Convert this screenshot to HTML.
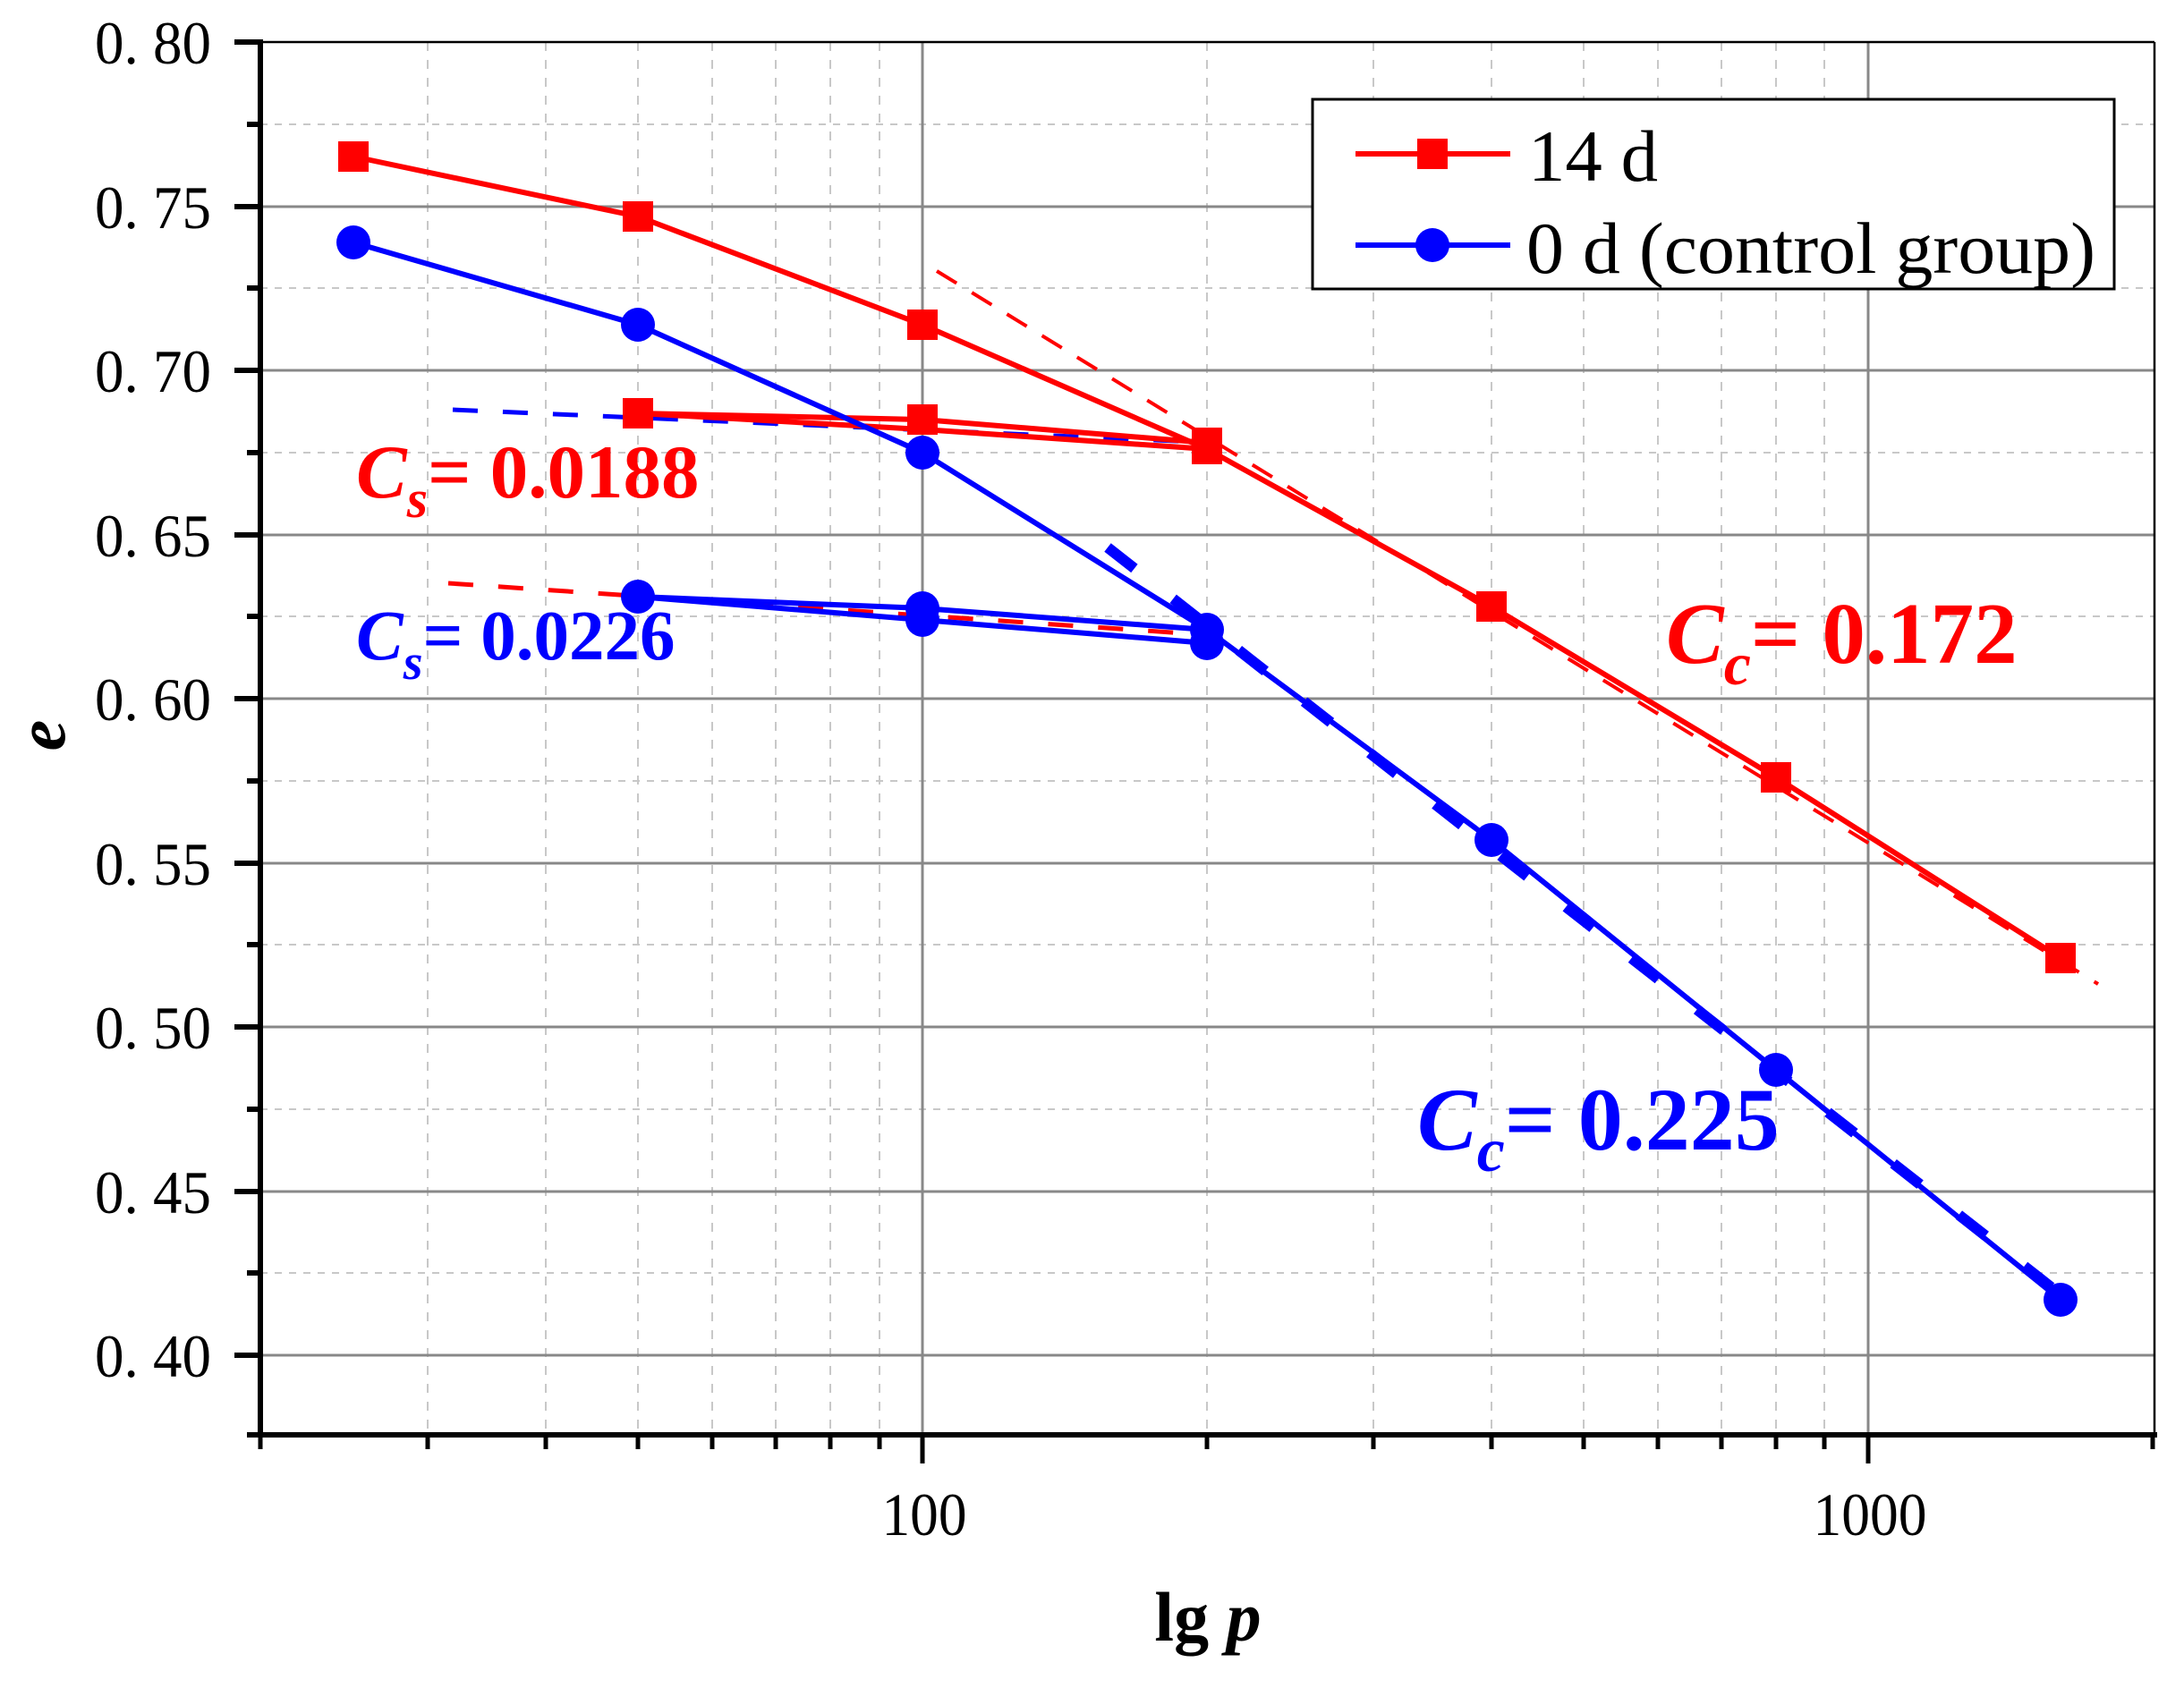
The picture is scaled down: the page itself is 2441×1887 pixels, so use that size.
<!DOCTYPE html>
<html><head><meta charset="utf-8"><style>html,body{margin:0;padding:0;background:#fff}svg{display:block}</style></head>
<body>
<svg width="2441" height="1887" viewBox="0 0 2441 1887" xmlns="http://www.w3.org/2000/svg" font-family="'Liberation Serif', serif">
<rect width="2441" height="1887" fill="#fff"/>
<g stroke="#c8c8c8" stroke-width="2" stroke-dasharray="8,8">
<line x1="291" y1="139" x2="2408" y2="139"/><line x1="291" y1="322" x2="2408" y2="322"/>
<line x1="291" y1="506" x2="2408" y2="506"/><line x1="291" y1="689" x2="2408" y2="689"/>
<line x1="291" y1="873" x2="2408" y2="873"/><line x1="291" y1="1056" x2="2408" y2="1056"/>
<line x1="291" y1="1240" x2="2408" y2="1240"/><line x1="291" y1="1423" x2="2408" y2="1423"/>
</g>
<g stroke="#c8c8c8" stroke-width="2" stroke-dasharray="10,10">
<line x1="478" y1="47" x2="478" y2="1604"/><line x1="610" y1="47" x2="610" y2="1604"/>
<line x1="713" y1="47" x2="713" y2="1604"/><line x1="796" y1="47" x2="796" y2="1604"/>
<line x1="867" y1="47" x2="867" y2="1604"/><line x1="928" y1="47" x2="928" y2="1604"/>
<line x1="983" y1="47" x2="983" y2="1604"/>
<line x1="1349" y1="47" x2="1349" y2="1604"/><line x1="1535" y1="47" x2="1535" y2="1604"/>
<line x1="1667" y1="47" x2="1667" y2="1604"/><line x1="1770" y1="47" x2="1770" y2="1604"/>
<line x1="1853" y1="47" x2="1853" y2="1604"/><line x1="1924" y1="47" x2="1924" y2="1604"/>
<line x1="1985" y1="47" x2="1985" y2="1604"/><line x1="2039" y1="47" x2="2039" y2="1604"/>
</g>
<g stroke="#888" stroke-width="3">
<line x1="291" y1="231" x2="2408" y2="231"/><line x1="291" y1="414" x2="2408" y2="414"/>
<line x1="291" y1="598" x2="2408" y2="598"/><line x1="291" y1="781" x2="2408" y2="781"/>
<line x1="291" y1="965" x2="2408" y2="965"/><line x1="291" y1="1148" x2="2408" y2="1148"/>
<line x1="291" y1="1332" x2="2408" y2="1332"/><line x1="291" y1="1515" x2="2408" y2="1515"/>
<line x1="1031" y1="47" x2="1031" y2="1604"/><line x1="2088" y1="47" x2="2088" y2="1604"/>
</g>
<line x1="291" y1="47" x2="2408" y2="47" stroke="#000" stroke-width="2.5"/>
<line x1="2408" y1="47" x2="2408" y2="1604" stroke="#000" stroke-width="2.5"/>
<line x1="291" y1="44" x2="291" y2="1607" stroke="#000" stroke-width="6"/>
<line x1="288" y1="1604" x2="2411" y2="1604" stroke="#000" stroke-width="6"/>
<g stroke="#000" stroke-width="6">
<line x1="262" y1="47" x2="291" y2="47"/><line x1="262" y1="231" x2="291" y2="231"/>
<line x1="262" y1="414" x2="291" y2="414"/><line x1="262" y1="598" x2="291" y2="598"/>
<line x1="262" y1="781" x2="291" y2="781"/><line x1="262" y1="965" x2="291" y2="965"/>
<line x1="262" y1="1148" x2="291" y2="1148"/><line x1="262" y1="1332" x2="291" y2="1332"/>
<line x1="262" y1="1515" x2="291" y2="1515"/>
<line x1="276" y1="139" x2="291" y2="139"/><line x1="276" y1="322" x2="291" y2="322"/>
<line x1="276" y1="506" x2="291" y2="506"/><line x1="276" y1="689" x2="291" y2="689"/>
<line x1="276" y1="873" x2="291" y2="873"/><line x1="276" y1="1056" x2="291" y2="1056"/>
<line x1="276" y1="1240" x2="291" y2="1240"/><line x1="276" y1="1423" x2="291" y2="1423"/>
<line x1="276" y1="1604" x2="291" y2="1604"/>
</g>
<g stroke="#000" stroke-width="5">
<line x1="291" y1="1604" x2="291" y2="1620"/>
<line x1="478" y1="1604" x2="478" y2="1620"/><line x1="610" y1="1604" x2="610" y2="1620"/>
<line x1="713" y1="1604" x2="713" y2="1620"/><line x1="796" y1="1604" x2="796" y2="1620"/>
<line x1="867" y1="1604" x2="867" y2="1620"/><line x1="928" y1="1604" x2="928" y2="1620"/>
<line x1="983" y1="1604" x2="983" y2="1620"/>
<line x1="1349" y1="1604" x2="1349" y2="1620"/><line x1="1535" y1="1604" x2="1535" y2="1620"/>
<line x1="1667" y1="1604" x2="1667" y2="1620"/><line x1="1770" y1="1604" x2="1770" y2="1620"/>
<line x1="1853" y1="1604" x2="1853" y2="1620"/><line x1="1924" y1="1604" x2="1924" y2="1620"/>
<line x1="1985" y1="1604" x2="1985" y2="1620"/><line x1="2039" y1="1604" x2="2039" y2="1620"/>
<line x1="2406" y1="1604" x2="2406" y2="1620"/>
<line x1="1031" y1="1604" x2="1031" y2="1636"/><line x1="2088" y1="1604" x2="2088" y2="1636"/>
</g>
<g font-size="68" fill="#000" text-anchor="end">
<text x="236" y="71" textLength="130" lengthAdjust="spacingAndGlyphs">0. 80</text>
<text x="236" y="255" textLength="130" lengthAdjust="spacingAndGlyphs">0. 75</text>
<text x="236" y="438" textLength="130" lengthAdjust="spacingAndGlyphs">0. 70</text>
<text x="236" y="622" textLength="130" lengthAdjust="spacingAndGlyphs">0. 65</text>
<text x="236" y="805" textLength="130" lengthAdjust="spacingAndGlyphs">0. 60</text>
<text x="236" y="989" textLength="130" lengthAdjust="spacingAndGlyphs">0. 55</text>
<text x="236" y="1172" textLength="130" lengthAdjust="spacingAndGlyphs">0. 50</text>
<text x="236" y="1356" textLength="130" lengthAdjust="spacingAndGlyphs">0. 45</text>
<text x="236" y="1539" textLength="130" lengthAdjust="spacingAndGlyphs">0. 40</text>
</g>
<g font-size="68" fill="#000" text-anchor="middle">
<text x="1033" y="1716" textLength="95" lengthAdjust="spacingAndGlyphs">100</text>
<text x="2090" y="1716" textLength="127" lengthAdjust="spacingAndGlyphs">1000</text>
</g>
<text x="1350" y="1834" font-size="78" font-weight="bold" text-anchor="middle" fill="#000">lg <tspan font-style="italic">p</tspan></text>
<text transform="translate(72,822) rotate(-90)" font-size="78" font-weight="bold" font-style="italic" text-anchor="middle" fill="#000">e</text>

<line x1="1047" y1="303" x2="2345" y2="1100" stroke="#f00" stroke-width="4" stroke-dasharray="26,20"/>
<line x1="1238" y1="612" x2="2304" y2="1448" stroke="#00f" stroke-width="12" stroke-dasharray="38,55"/>
<line x1="506" y1="458" x2="1362" y2="495" stroke="#00f" stroke-width="5" stroke-dasharray="28,28"/>
<line x1="501" y1="652" x2="1354" y2="710" stroke="#f00" stroke-width="5" stroke-dasharray="28,28"/>

<g stroke="#f00" stroke-width="6" fill="none">
<polyline points="395,175 713,242 1031,363 1349,502 1667,678 1985,869 2303,1071"/>
<polyline points="1349,495 1031,469 713,462"/>
<polyline points="713,462 1031,480 1349,502"/>
</g>
<g fill="#f00">
<rect x="378" y="158" width="34" height="34"/><rect x="696" y="225" width="34" height="34"/>
<rect x="1014" y="346" width="34" height="34"/><rect x="1332" y="485" width="34" height="34"/>
<rect x="1650" y="661" width="34" height="34"/><rect x="1968" y="852" width="34" height="34"/>
<rect x="2286" y="1054" width="34" height="34"/>
<rect x="696" y="445" width="34" height="34"/><rect x="1014" y="452" width="34" height="34"/>
<rect x="1332" y="478" width="34" height="34"/>
</g>
<g stroke="#00f" stroke-width="6" fill="none">
<polyline points="395,271 713,363 1031,506 1349,704 1667,939 1985,1196 2303,1453"/>
<polyline points="1349,704 1031,680 713,667"/>
<polyline points="713,667 1031,693 1349,719"/>
</g>
<g fill="#00f">
<circle cx="395" cy="271" r="19"/><circle cx="713" cy="363" r="19"/>
<circle cx="1031" cy="506" r="19"/><circle cx="1349" cy="704" r="19"/>
<circle cx="1667" cy="939" r="19"/><circle cx="1985" cy="1196" r="19"/>
<circle cx="2303" cy="1453" r="19"/>
<circle cx="713" cy="667" r="19"/><circle cx="1031" cy="680" r="19"/>
<circle cx="1031" cy="693" r="19"/><circle cx="1349" cy="719" r="19"/>
</g>

<g font-weight="bold">
<text x="398" y="556" font-size="85" fill="#f00"><tspan font-style="italic">C</tspan><tspan font-style="italic" font-size="60" dy="22">s</tspan><tspan dy="-22">= 0.0188</tspan></text>
<text x="398" y="737" font-size="79" fill="#00f"><tspan font-style="italic">C</tspan><tspan font-style="italic" font-size="56" dy="22">s</tspan><tspan dy="-22">= 0.0226</tspan></text>
<text x="1862" y="741" font-size="97" fill="#f00"><tspan font-style="italic">C</tspan><tspan font-style="italic" font-size="68" dy="24">c</tspan><tspan dy="-24">= 0.172</tspan></text>
<text x="1584" y="1285" font-size="100" fill="#00f"><tspan font-style="italic">C</tspan><tspan font-style="italic" font-size="70" dy="24">c</tspan><tspan dy="-24">= 0.225</tspan></text>
</g>

<rect x="1467" y="111" width="896" height="212" fill="#fff" stroke="#000" stroke-width="3"/>
<line x1="1515" y1="172" x2="1688" y2="172" stroke="#f00" stroke-width="6"/>
<rect x="1584" y="155" width="34" height="34" fill="#f00"/>
<line x1="1515" y1="274" x2="1688" y2="274" stroke="#00f" stroke-width="6"/>
<circle cx="1601" cy="274" r="19" fill="#00f"/>
<text x="1708" y="202" font-size="82" fill="#000" textLength="145" lengthAdjust="spacingAndGlyphs">14 d</text>
<text x="1706" y="305" font-size="82" fill="#000" textLength="636" lengthAdjust="spacingAndGlyphs">0 d (control group)</text>
</svg>
</body></html>
